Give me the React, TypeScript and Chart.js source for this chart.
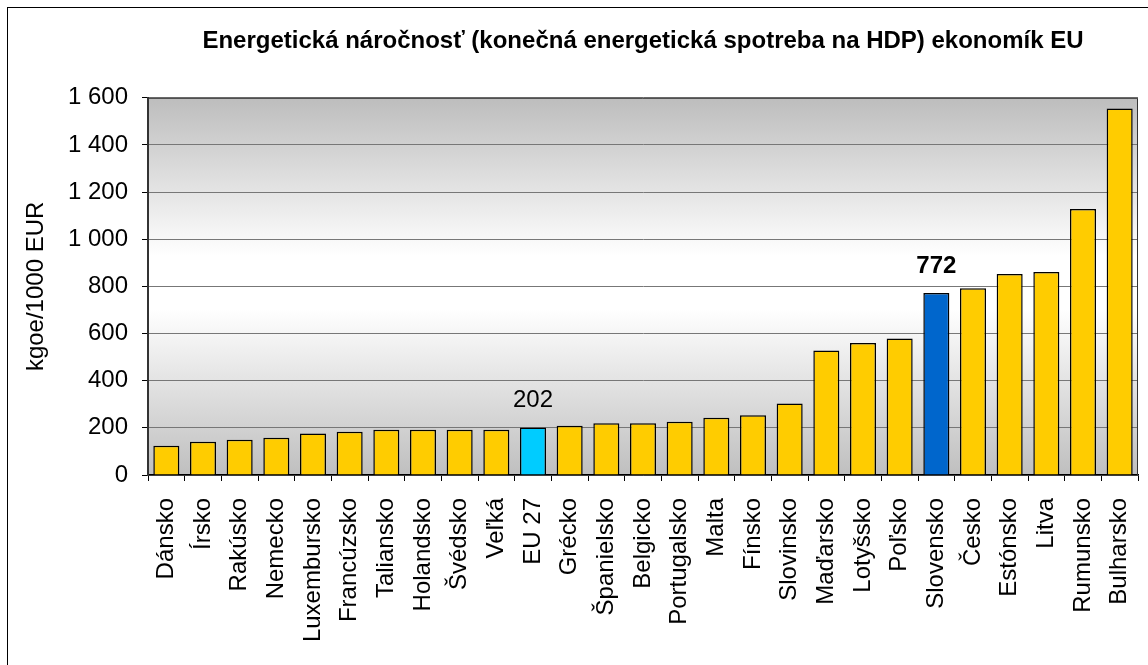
import React, { useEffect, useRef } from "react";
import { Chart, registerables } from "chart.js";

Chart.register(...registerables);

const TITLE = "Energetická náročnosť (konečná energetická spotreba na HDP) ekonomík EU";
const Y_TITLE = "kgoe/1000 EUR";

const categories = [
  "Dánsko", "Írsko", "Rakúsko", "Nemecko", "Luxembursko", "Francúzsko", "Taliansko",
  "Holandsko", "Švédsko", "Veľká", "EU 27", "Grécko", "Španielsko", "Belgicko",
  "Portugalsko", "Malta", "Fínsko", "Slovinsko", "Maďarsko", "Lotyšsko", "Poľsko",
  "Slovensko", "Česko", "Estónsko", "Litva", "Rumunsko", "Bulharsko",
];
const values = [
  124, 141, 150, 158, 176, 183, 192, 192, 192, 192, 202, 209, 219, 219, 226, 243, 253,
  303, 528, 560, 579, 772, 792, 853, 861, 1128, 1555,
];

const yMin = 0;
const yMax = 1600;
const yStep = 200;

const labeledCategories = ["EU 27", "Slovensko"];
const labeledBold = [false, true];

const COLOR_DEFAULT = "#FFCC00";
const highlightCategories = ["EU 27", "Slovensko"];
const highlightColors = ["#00CCFF", "#0066CC"];

const FONT = "'Liberation Sans', Arial, sans-serif";

const fmt = (v: number) => String(v).replace(/\B(?=(\d{3})+(?!\d))/g, " ");

const plotBackground = {
  id: "plotBackground",
  beforeDraw(chart: any) {
    const { ctx, chartArea } = chart;
    const { left, top, right, bottom } = chartArea;
    const g = ctx.createLinearGradient(0, top, 0, bottom);
    g.addColorStop(0, "#bdbdbd");
    g.addColorStop(0.42, "#ffffff");
    g.addColorStop(0.56, "#ffffff");
    g.addColorStop(1, "#bfbfbf");
    ctx.save();
    ctx.fillStyle = g;
    ctx.fillRect(left, top, right - left, bottom - top);
    ctx.restore();
  },
  afterDraw(chart: any) {
    const { ctx, chartArea } = chart;
    const { left, top, right, bottom } = chartArea;
    ctx.save();
    ctx.strokeStyle = "#333";
    ctx.lineWidth = 1;
    ctx.beginPath();
    ctx.moveTo(left, top + 0.5);
    ctx.lineTo(right - 0.5, top + 0.5);
    ctx.lineTo(right - 0.5, bottom);
    ctx.stroke();
    ctx.restore();
  },
};

const valueLabels = {
  id: "valueLabels",
  afterDatasetsDraw(chart: any) {
    const { ctx } = chart;
    const meta = chart.getDatasetMeta(0);
    ctx.save();
    ctx.fillStyle = "#000";
    ctx.textAlign = "center";
    ctx.textBaseline = "alphabetic";
    labeledCategories.forEach((cat, i) => {
      const idx = categories.indexOf(cat);
      const bar = meta.data[idx];
      if (!bar) return;
      ctx.font = `${labeledBold[i] ? "bold " : ""}24px ${FONT}`;
      ctx.fillText(fmt(values[idx]), bar.x, bar.y - 20);
    });
    ctx.restore();
  },
};

export default function App() {
  const ref = useRef<HTMLCanvasElement | null>(null);

  useEffect(() => {
    if (!ref.current) return;
    const colors = categories.map((c) => {
      const h = highlightCategories.indexOf(c);
      return h >= 0 ? highlightColors[h] : COLOR_DEFAULT;
    });
    const chart = new Chart(ref.current, {
      type: "bar",
      data: {
        labels: categories,
        datasets: [
          {
            data: values,
            backgroundColor: colors,
            borderColor: "#000",
            borderWidth: 1.5,
            barPercentage: 0.71,
            categoryPercentage: 1,
          },
        ],
      },
      options: {
        animation: false,
        responsive: false,
        maintainAspectRatio: false,
        layout: { padding: { left: 0, right: 10, top: 0, bottom: 0 } },
        plugins: {
          legend: { display: false },
          tooltip: { enabled: false },
          title: {
            display: true,
            fullSize: false,
            text: TITLE,
            color: "#000",
            font: { family: FONT, size: 24, weight: "bold" },
            padding: { top: 27, bottom: 42 },
            align: "center",
          },
        },
        scales: {
          x: {
            offset: true,
            grid: {
              display: true,
              offset: true,
              drawOnChartArea: false,
              tickLength: 6,
              color: "#000",
            },
            border: { display: true, color: "#000", width: 1.5 },
            ticks: {
              autoSkip: false,
              minRotation: 90,
              maxRotation: 90,
              padding: 17,
              color: "#000",
              font: { family: FONT, size: 24 },
            },
            afterFit: (scale: any) => {
              scale.height = 190;
              scale.paddingLeft = 0;
              scale.paddingRight = 0;
            },
          },
          y: {
            min: yMin,
            max: yMax,
            ticks: {
              stepSize: yStep,
              padding: 14,
              color: "#000",
              font: { family: FONT, size: 24 },
              callback: (v: any) => fmt(Number(v)),
            },
            grid: {
              color: "#777",
              lineWidth: 1,
              borderDash: [1, 1],
              tickBorderDash: [],
              tickColor: "#000",
              tickLength: 6,
            },
            border: { display: true, color: "#333", width: 2 },
            title: {
              display: true,
              text: Y_TITLE,
              color: "#000",
              font: { family: FONT, size: 24 },
              padding: { top: 22, bottom: 0 },
            },
            afterFit: (scale: any) => {
              scale.width = 148;
            },
          },
        },
      },
      plugins: [plotBackground, valueLabels],
    });
    return () => chart.destroy();
  }, []);

  return (
    <div style={{ position: "absolute", left: 0, top: 0, width: 1148, height: 665, background: "#fff" }}>
      <div
        style={{
          position: "absolute",
          left: 7,
          top: 7,
          width: 1160,
          height: 680,
          border: "1px solid #000",
          boxSizing: "border-box",
          pointerEvents: "none",
        }}
      />
      <canvas ref={ref} width={1148} height={665} style={{ position: "absolute", left: 0, top: 0 }} />
    </div>
  );
}
